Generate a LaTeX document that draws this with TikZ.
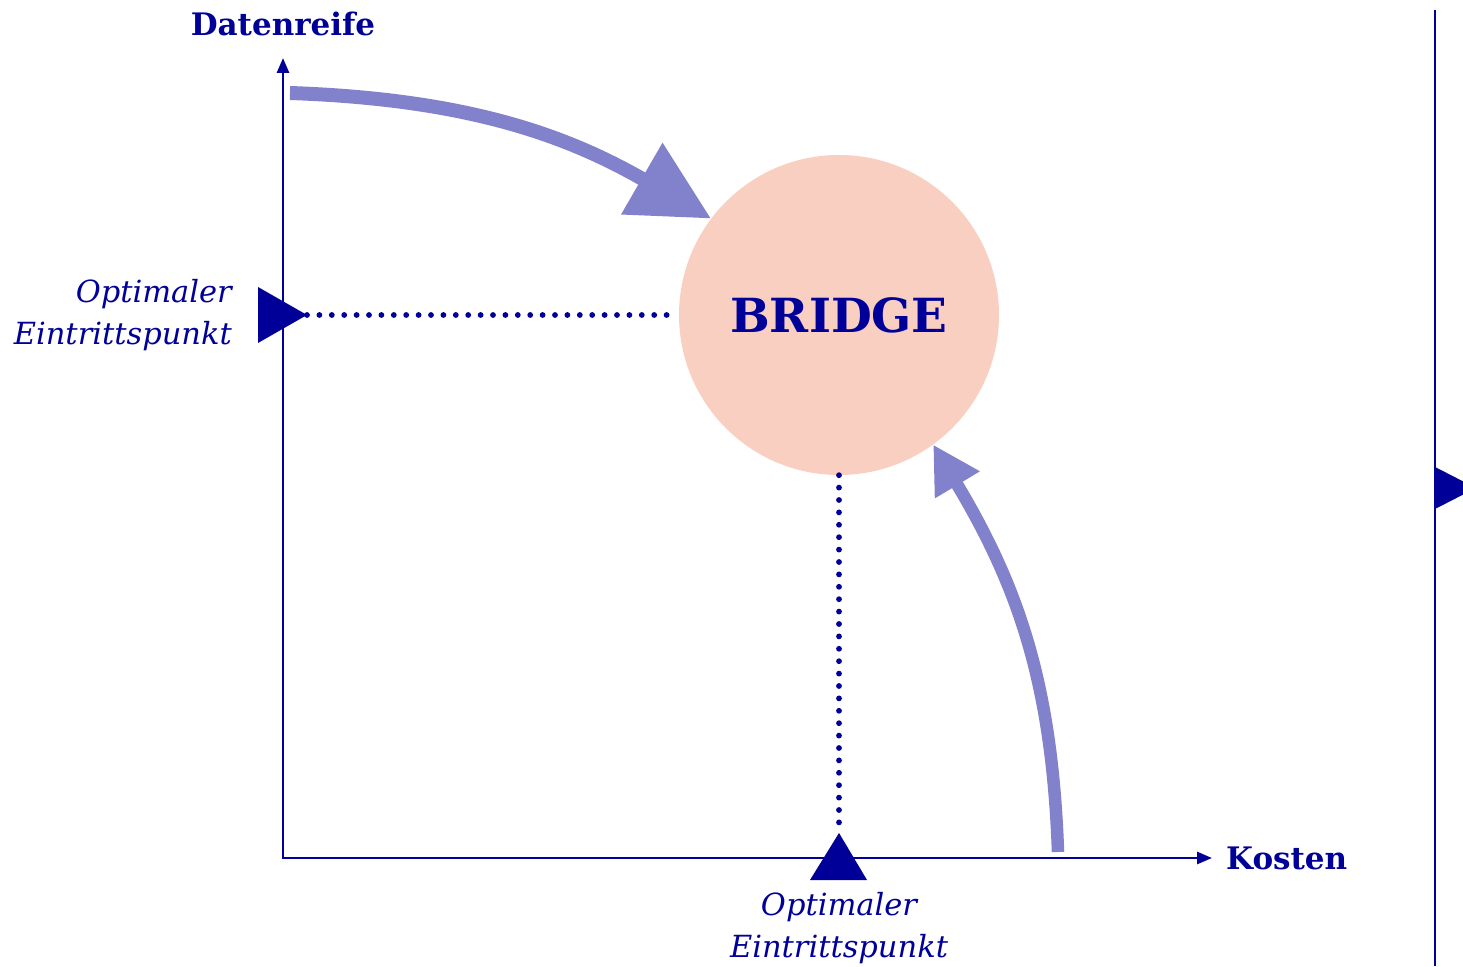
\documentclass[tikz,border=0pt]{standalone}
\usepackage{fontspec}
\setmainfont{DejaVu Serif}
\usetikzlibrary{arrows.meta,positioning}
\definecolor{bridgenavy}{HTML}{000099}
\definecolor{bridgeflow}{HTML}{8282CC}
\definecolor{bridgepeach}{HTML}{F8CFC0}

\begin{document}
\begin{tikzpicture}[x=1pt,y=1pt,
  axis/.style={draw=bridgenavy,line width=2.8pt},
  dots/.style={bridgenavy,line width=5.8pt,line cap=round,dash pattern=on 0pt off 12.4pt},
  marker/.style={fill=bridgenavy},
  flow/.style={bridgeflow,line width=14pt},
  hub/.style={circle,fill=bridgepeach,minimum size=320pt,inner sep=0pt,text=bridgenavy,font=\fontsize{47}{50}\selectfont\bfseries},
  axlabel/.style={font=\fontsize{31}{36}\selectfont\bfseries,text=bridgenavy,inner sep=0pt},
  entry/.style={font=\fontsize{30.5}{42}\selectfont\itshape,text=bridgenavy,inner sep=0pt}]
\useasboundingbox (0,0) rectangle (1463,966);
\coordinate (origin) at (283,108);
\coordinate (ytop) at (283,908);
\coordinate (xend) at (1212,108);
\coordinate (ltip) at (307,651);
\coordinate (btip) at (839,133);
\node[hub] (bridge) at (839,651) {BRIDGE};
% axes
\draw[axis,{Triangle[length=15pt,width=12pt]}-{Triangle[length=15pt,width=12pt]}] (ytop) |- (xend);
\node[axlabel,above=22pt of ytop] (ylabel) {Datenreife};
\node[axlabel,right=14pt of xend] (xlabel) {Kosten};
% entry points
\draw[dots] (ltip) -- (bridge.west);
\draw[dots] (bridge.south) -- (btip);
\fill[marker] (ltip) -- (258,679) -- (258,623) -- cycle;
\fill[marker] (btip) -- (810,86) -- (867,86) -- cycle;
\node[entry,align=right,anchor=east] (lentry) at (232,651) {Optimaler\\Eintrittspunkt};
\node[entry,align=center] (bentry) at (839,38) {Optimaler\\Eintrittspunkt};
% flows into the bridge
\draw[flow,-{Triangle[length=80pt,width=79pt]}] (290,873) to[out=-2,in=150] (bridge.143);
\draw[flow,line width=12.5pt,-{Triangle[length=47pt,width=49pt]}] (1058,114) to[out=92,in=-59] (bridge.-54);
% right edge
\draw[axis] (1435,956) -- (1435,0);
\fill[marker] (1435,499) -- (1476,478) -- (1435,457) -- cycle;
\end{tikzpicture}
\end{document}
